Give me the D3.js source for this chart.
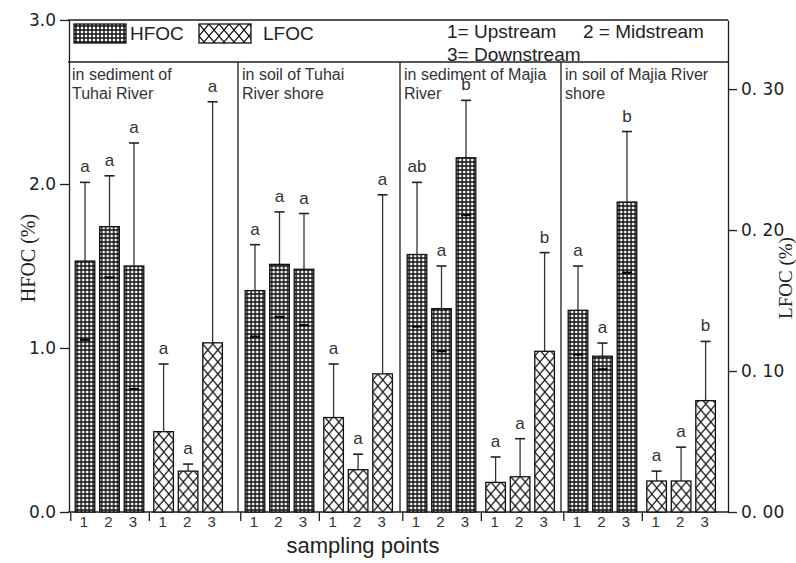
<!DOCTYPE html>
<html>
<head>
<meta charset="utf-8">
<script src="https://cdn.jsdelivr.net/npm/d3@7"></script>
<style>
  body { margin: 0; background: #fff; }
  svg { display: block; }
</style>
</head>
<body>
<svg id="chart" width="796" height="563"></svg>
<script>
// ---- data ---------------------------------------------------------------
// Sampling sites, each caption split over two lines
const panelTitles = [
  ["in sediment of", "Tuhai River"],
  ["in soil of Tuhai", "River shore"],
  ["in sediment of Majia", "River"],
  ["in soil of Majia River", "shore"]
];
const seriesNames = ["HFOC", "LFOC"];
const samplingPoints = ["1", "2", "3"];

// Heavy fraction organic carbon (%), mean and SD per site and sampling point
const hfocMean = [[1.53, 1.74, 1.50], [1.35, 1.51, 1.48], [1.57, 1.24, 2.16], [1.23, 0.95, 1.89]];
const hfocSD   = [[0.48, 0.31, 0.75], [0.28, 0.32, 0.34], [0.44, 0.26, 0.35], [0.27, 0.08, 0.43]];
const hfocLetters = [["a", "a", "a"], ["a", "a", "a"], ["ab", "a", "b"], ["a", "a", "b"]];

// Light fraction organic carbon (%), mean and SD per site and sampling point
const lfocMean = [[0.057, 0.029, 0.120], [0.067, 0.030, 0.098], [0.021, 0.025, 0.114], [0.022, 0.022, 0.079]];
const lfocSD   = [[0.048, 0.005, 0.171], [0.038, 0.011, 0.127], [0.018, 0.027, 0.070], [0.007, 0.024, 0.042]];
const lfocLetters = [["a", "a", "a"], ["a", "a", "a"], ["a", "a", "b"], ["a", "a", "b"]];

const hfocTicks = [0, 1, 2, 3];
const lfocTicks = [0, 0.1, 0.2, 0.3];
const legendNotes = ["1= Upstream", "2 = Midstream", "3= Downstream"];

// ---- layout -------------------------------------------------------------
const plot = { left: 68, right: 728, top: 20, bottom: 512, header: 62 };
const panelWidths = [170, 162, 161, 167];
const panelLefts = panelWidths.map((w, i) => plot.left + d3.sum(panelWidths.slice(0, i)));

const ink = "#1e1e1e";
const sans = "'Liberation Sans', Arial, sans-serif";
const serif = "'Liberation Serif', 'Times New Roman', serif";

const svg = d3.select("#chart");

// ---- scales -------------------------------------------------------------
const yH = d3.scaleLinear().domain([0, 3]).range([plot.bottom, plot.top]);
const yL = d3.scaleLinear().domain([0, 0.349]).range([plot.bottom, plot.top]);

const groupX = d3.scaleBand().domain(seriesNames).range([4.75, 156.85]).paddingInner(0.065);
const pointX = d3.scaleBand().domain(samplingPoints).range([0, groupX.bandwidth()])
  .paddingInner(0.2).paddingOuter(0.1);

// ---- fill patterns ------------------------------------------------------
const defs = svg.append("defs");
const grid = defs.append("pattern").attr("id", "gridFill")
  .attr("patternUnits", "userSpaceOnUse").attr("width", 4).attr("height", 4);
grid.append("rect").attr("width", 4).attr("height", 4).attr("fill", "#fff");
grid.append("path").attr("d", "M0,2H4M2,0V4").attr("stroke", "#111").attr("stroke-width", 1.5);

const cross = defs.append("pattern").attr("id", "crossFill")
  .attr("patternUnits", "userSpaceOnUse").attr("width", 10).attr("height", 12);
cross.append("rect").attr("width", 10).attr("height", 12).attr("fill", "#fff");
cross.append("path").attr("d", "M-1,-1.2L11,13.2M11,-1.2L-1,13.2")
  .attr("stroke", "#111").attr("stroke-width", 1.2);

const fills = { HFOC: "url(#gridFill)", LFOC: "url(#crossFill)" };

// ---- frame --------------------------------------------------------------
const frame = svg.append("g").attr("stroke", ink).attr("stroke-width", 1.3).attr("fill", "none");
frame.append("line").attr("x1", plot.left).attr("x2", plot.right).attr("y1", plot.top).attr("y2", plot.top);
frame.append("line").attr("x1", plot.left).attr("x2", plot.right).attr("y1", plot.header).attr("y2", plot.header);
frame.append("line").attr("x1", plot.left).attr("x2", plot.right).attr("y1", plot.bottom).attr("y2", plot.bottom);
panelLefts.slice(1).forEach(x => {
  frame.append("line").attr("x1", x).attr("x2", x).attr("y1", plot.header).attr("y2", plot.bottom);
});

// ---- axes ---------------------------------------------------------------
const leftAxis = svg.append("g").attr("transform", `translate(${plot.left + 1},0)`)
  .call(d3.axisLeft(yH).tickValues(hfocTicks).tickSize(9).tickSizeOuter(0).tickPadding(4)
    .tickFormat(d3.format(".1f")));
const rightAxis = svg.append("g").attr("transform", `translate(${plot.right},0)`)
  .call(d3.axisRight(yL).tickValues(lfocTicks).tickSize(9).tickSizeOuter(0).tickPadding(4)
    .tickFormat(d => d.toFixed(2).replace(".", ". ")));
[leftAxis, rightAxis].forEach(a => {
  a.selectAll("path.domain").attr("stroke", ink).attr("stroke-width", 1.3);
  a.selectAll(".tick line").attr("stroke", ink).attr("stroke-width", 1.3);
  a.selectAll(".tick text").attr("font-family", "'DejaVu Sans', sans-serif")
    .attr("font-size", 17).attr("fill", "#222");
});

// ---- bars ---------------------------------------------------------------
const series = [
  { name: "HFOC", mean: hfocMean, sd: hfocSD, letters: hfocLetters, y: yH, lowerCap: true },
  { name: "LFOC", mean: lfocMean, sd: lfocSD, letters: lfocLetters, y: yL, lowerCap: false }
];

const bw = pointX.bandwidth();
panelTitles.forEach((title, p) => {
  const panel = svg.append("g").attr("transform", `translate(${panelLefts[p]},0)`);

  panel.append("text").attr("x", 4).attr("y", 80)
    .attr("font-family", sans).attr("font-size", 16).attr("fill", "#333")
    .selectAll("tspan").data(title).join("tspan")
    .attr("x", 4).attr("dy", (d, i) => i ? 19 : 0).text(d => d);

  series.forEach(s => {
    const gx = groupX(s.name);
    // small tick below the axis at the start of each group
    panel.append("line").attr("x1", gx - 2).attr("x2", gx - 2)
      .attr("y1", plot.bottom).attr("y2", plot.bottom + 9)
      .attr("stroke", ink).attr("stroke-width", 1.3);

    samplingPoints.forEach((pt, i) => {
      const m = s.mean[p][i], e = s.sd[p][i];
      const x0 = gx + pointX(pt), cx = x0 + bw / 2;
      const top = s.y(m), errTop = s.y(m + e);

      // error bar above the bar
      panel.append("line").attr("x1", cx).attr("x2", cx).attr("y1", top).attr("y2", errTop)
        .attr("stroke", "#333").attr("stroke-width", 1.3);
      panel.append("line").attr("x1", cx - 5).attr("x2", cx + 5).attr("y1", errTop).attr("y2", errTop)
        .attr("stroke", "#222").attr("stroke-width", 1.6);

      const bar = panel.append("g").attr("transform", `translate(${x0},${plot.bottom})`);
      bar.append("rect").attr("x", 0).attr("y", top - plot.bottom)
        .attr("width", bw).attr("height", plot.bottom - top)
        .attr("fill", fills[s.name]).attr("stroke", "#111").attr("stroke-width", 1.3);

      // lower whisker cap shows through the bar
      if (s.lowerCap && m - e > 0) {
        const lo = s.y(m - e);
        panel.append("line").attr("x1", cx - 5).attr("x2", cx + 5).attr("y1", lo).attr("y2", lo)
          .attr("stroke", "#000").attr("stroke-width", 2);
      }

      panel.append("text").attr("x", cx).attr("y", errTop - 10)
        .attr("text-anchor", "middle").attr("font-family", sans).attr("font-size", 17)
        .attr("fill", "#333").text(s.letters[p][i]);

      panel.append("text").attr("x", cx - 1).attr("y", plot.bottom + 15)
        .attr("text-anchor", "middle").attr("font-family", sans).attr("font-size", 15)
        .attr("fill", "#333").text(pt);
    });
  });
});

// ---- legend -------------------------------------------------------------
const legend = svg.append("g");
[["HFOC", 74, 130], ["LFOC", 199, 263]].forEach(([name, sx, tx]) => {
  const sw = legend.append("g").attr("transform", `translate(${sx},24)`);
  sw.append("rect").attr("width", 52).attr("height", 19)
    .attr("fill", fills[name]).attr("stroke", "#111").attr("stroke-width", 1.3);
  legend.append("text").attr("x", tx).attr("y", 40)
    .attr("font-family", sans).attr("font-size", 19).attr("fill", "#222").text(name);
});
legend.append("text").attr("x", 447).attr("y", 38).attr("font-family", sans)
  .attr("font-size", 19).attr("fill", "#222").text(legendNotes[0]);
legend.append("text").attr("x", 583).attr("y", 38).attr("font-family", sans)
  .attr("font-size", 19).attr("fill", "#222").text(legendNotes[1]);
legend.append("text").attr("x", 447).attr("y", 61).attr("font-family", sans)
  .attr("font-size", 19).attr("fill", "#222").text(legendNotes[2]);

// ---- axis titles --------------------------------------------------------
svg.append("text").attr("transform", "translate(35,258) rotate(-90)")
  .attr("text-anchor", "middle").attr("font-family", serif)
  .attr("font-size", 20).attr("fill", "#222").text("HFOC (%)");
svg.append("text").attr("transform", "translate(792,278) rotate(-90)")
  .attr("text-anchor", "middle").attr("font-family", serif)
  .attr("font-size", 19).attr("fill", "#222").text("LFOC (%)");
svg.append("text").attr("x", 363).attr("y", 553).attr("text-anchor", "middle")
  .attr("font-family", sans).attr("font-size", 22).attr("fill", "#222").text("sampling points");
</script>
</body>
</html>
